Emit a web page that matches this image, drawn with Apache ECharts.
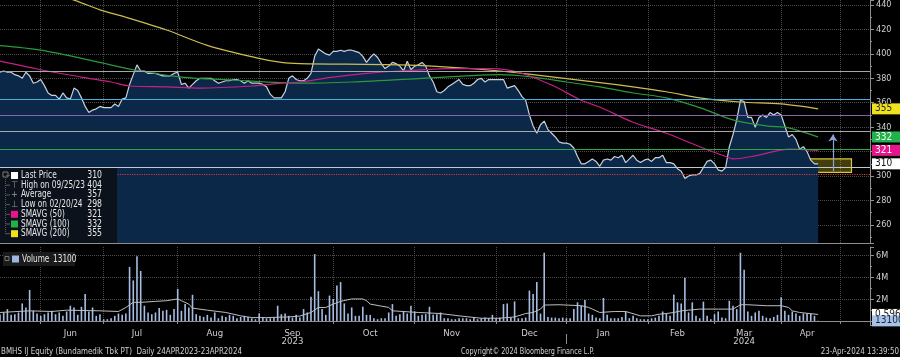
<!DOCTYPE html>
<html>
<head>
<meta charset="utf-8">
<script src="https://cdn.jsdelivr.net/npm/echarts@6.0.0/dist/echarts.min.js"></script>
<style>
  html, body { margin: 0; padding: 0; background: #000; }
  #chart { width: 900px; height: 357px; }
</style>
</head>
<body>
<div id="chart"></div>
<script>
// ---------------- DATA ----------------
const monthNames = ['May','Jun','Jul','Aug','Sep','Oct','Nov','Dec','Jan','Feb','Mar','Apr','May'];
const monthYears = [2023,2023,2023,2023,2023,2023,2023,2023,2024,2024,2024,2024,2024];
const monthTradingDays = [11,17,20,22,20,22,22,19,22,18,18,16,9];
const yearLabels = ['2023','2024'];

// daily closes (IDR)
const price = [
  385,386,385,385,383,382,380,385,382,376,
  377,379,374,368,366,366,363,368,364,363,
  372,370,364,357,352,354,355,357,356,356,
  356,359,357,363,364,375,383,391,386,386,
  384,384,384,383,382,382,382,384,385,375,
  376,372,375,378,380,380,380,380,378,376,
  377,378,378,379,379,378,376,378,376,376,
  376,375,373,367,364,364,364,369,380,382,
  379,378,378,380,384,398,404,402,400,399,
  402,402,403,402,403,403,402,401,398,393,
  397,400,397,392,388,390,393,392,390,386,
  394,387,390,391,393,390,382,377,369,368,
  370,373,375,377,379,375,374,374,376,379,
  380,377,379,379,379,379,379,372,373,374,
  370,365,362,350,341,335,342,345,338,335,
  332,328,327,327,326,323,316,310,310,312,
  314,312,308,313,314,313,316,315,317,311,
  314,317,313,311,313,314,312,315,315,317,
  311,311,310,306,304,298,300,301,301,302,
  307,312,313,310,305,304,307,324,334,346,
  362,361,348,348,340,348,350,348,352,350,
  352,350,341,332,334,330,322,324,320,313,
  310,310
];

// daily volume (millions of shares)
const volume = [
  0.60,0.78,1.09,0.56,0.62,0.78,1.61,1.24,2.84,0.93,
  0.68,0.47,0.62,0.78,0.93,0.62,0.78,0.47,0.87,1.40,
  1.24,0.56,1.30,2.48,0.87,1.24,0.47,0.62,0.16,0.16,
  0.25,0.47,0.68,0.56,0.68,4.96,3.72,5.95,4.59,1.40,
  0.78,0.62,0.78,1.18,0.93,1.02,0.56,1.09,2.95,0.93,
  1.55,1.24,2.40,0.62,0.47,0.37,0.56,0.31,0.78,0.25,
  0.47,0.37,0.56,0.47,0.25,0.37,0.47,0.37,0.25,0.16,
  0.68,0.31,0.25,0.25,0.31,1.40,0.62,0.68,0.47,0.31,
  0.56,0.31,1.09,0.78,2.23,6.14,2.73,1.09,0.56,2.33,
  2.02,3.26,3.57,1.61,0.68,1.24,0.47,0.47,1.30,0.56,
  0.56,0.25,0.16,0.25,0.25,0.78,1.55,0.47,0.62,0.87,
  0.68,1.40,0.87,0.47,0.56,0.62,1.30,0.56,0.62,0.78,
  0.25,0.25,0.16,0.16,0.25,0.25,0.25,0.16,0.37,0.16,
  0.25,0.31,0.25,0.56,0.25,0.31,1.55,1.61,0.31,1.80,
  0.25,0.25,0.31,2.79,2.48,3.57,0.68,6.26,0.37,0.31,
  0.31,0.25,0.31,0.25,0.25,1.09,1.71,1.40,1.92,0.68,
  0.56,0.31,0.25,2.11,0.56,0.25,0.25,0.25,0.37,0.87,
  0.25,0.47,0.25,0.16,0.16,0.16,0.25,0.31,0.47,0.87,
  0.68,0.47,2.42,1.71,1.61,3.97,0.78,1.71,0.47,0.25,
  1.77,0.47,0.16,0.62,0.87,0.31,0.25,1.86,1.40,1.09,
  6.26,4.71,0.87,0.47,0.78,0.93,0.47,0.31,0.25,0.37,
  0.56,2.17,0.93,0.56,0.87,0.68,0.47,0.68,0.68,0.68,
  0.47,0.0131
];

// moving averages: [trading-day index, value]
const sma50 = [[0,394],[11,387],[22,381],[30,377],[35,373.7],[45,373],[54,372],[68,373.7],[76,376],[81,377],[90,381],[99,384],[108,386],[122,388],[133,388],[140,385],[149,374.5],[157,362],[162,356.5],[171,344],[180,335],[189,324],[196,316],[198,314],[203,316],[209,320],[213,322],[221,321]];
const sma100 = [[0,406.7],[11,403],[27,393],[36,387],[49,381],[63,378.6],[81,376],[95,377],[114,380],[126,382],[135,383],[144,381],[153,377],[162,373],[171,368],[180,364],[189,356],[198,346],[207,341],[213,339.5],[221,332]];
const sma200 = [[0,466],[10,452],[20,444],[27,436],[34,430],[45,419.5],[56,407],[69,397],[76,393],[81,392],[108,391],[122,389],[135,386],[144,383],[162,376.5],[171,373],[180,369],[189,364],[200,360.6],[211,359],[221,355]];
const volAvg = [[0,0.78],[8,0.93],[14,0.87],[18,0.99],[27,0.93],[32,0.87],[34,1.24],[36,1.71],[38,1.71],[42,1.80],[45,1.86],[48,2.02],[49,1.86],[51,1.55],[52,1.18],[56,0.99],[61,0.78],[65,0.47],[68,0.31],[72,0.31],[78,0.37],[81,0.45],[84,0.78],[86,1.24],[88,1.24],[90,1.55],[92,1.80],[95,2.02],[98,2.02],[99,1.86],[100,1.55],[105,1.24],[106,0.93],[113,0.78],[119,0.68],[124,0.47],[130,0.25],[135,0.25],[139,0.37],[142,0.68],[144,0.78],[146,1.09],[147,1.46],[151,1.49],[157,1.40],[159,1.24],[160,1.09],[162,0.78],[166,0.87],[169,0.87],[173,0.47],[176,0.47],[178,0.62],[180,0.68],[182,0.78],[184,0.93],[189,1.09],[194,1.09],[198,1.09],[200,1.49],[202,1.49],[207,1.40],[211,1.40],[213,1.24],[214,0.93],[216,0.78],[221,0.596]];

// drawn horizontal levels, zone band and arrow annotation (price units / day index)
const levelLines = [386, 362.5, 350, 337, 322, 307.5, 301.5];
const zoneBand = [[216, 314], [230, 303]];
const arrowMark = [[225, 304], [225, 334]];
const stats = { highDate: '09/25/23', average: 357, lowDate: '02/20/24' };

// ---------------- STYLES ----------------
const levelColors = ['#a6a6a6', '#45aedb', '#8d62ad', '#a8a8a8', '#2da548', '#c2c8d2', '#d23a3a'];
const levelTypes = ['solid','solid','solid','solid','solid','solid','dotted'];
const FONT = '"Liberation Sans Narrow","DejaVu Sans Condensed","Arial Narrow","Liberation Sans",sans-serif';
const TXT = '#cfcfcf';
const GRIDC = '#4b4b4b';
const AXC = '#8e8e8e';

// ---------------- DERIVED ----------------
const monthStart = []; let acc = 0;
monthTradingDays.forEach(d => { monthStart.push(acc); acc += d; });
const categories = [];
monthTradingDays.forEach((d, m) => { for (let k = 0; k < d; k++) categories.push(monthNames[m] + ' ' + monthYears[m] + ' #' + (k + 1)); });
const boundarySet = new Set(monthStart.slice(1));
const monthLabelAt = {};
for (let m = 1; m < monthNames.length - 1; m++) monthLabelAt[monthStart[m] + Math.floor((monthTradingDays[m] - 1) / 2)] = monthNames[m];
const yearLabelAt = {};
yearLabelAt[monthStart[4] + Math.floor((monthTradingDays[4] - 1) / 2)] = yearLabels[0];
yearLabelAt[monthStart[10] + Math.floor((monthTradingDays[10] - 1) / 2)] = yearLabels[1];
const yearBreak = monthStart[8];

const lastPrice = price[price.length - 1];
const highPrice = Math.max.apply(null, price);
const lowPrice = Math.min.apply(null, price);
const last50 = sma50[sma50.length - 1][1];
const last100 = sma100[sma100.length - 1][1];
const last200 = sma200[sma200.length - 1][1];
const lastVol = volume[volume.length - 1];
const lastVolAvg = volAvg[volAvg.length - 1][1];

const tag = (bg, fg, text) => ({
  show: true, position: 'end', distance: 2, formatter: text,
  color: fg, backgroundColor: bg, padding: [1, 3, 0, 3],
  fontSize: 10, fontFamily: FONT, width: 24, lineHeight: 10
});
const hidden = { width: 0, color: 'rgba(0,0,0,0)' };

const xBase = { type: 'category', data: categories, boundaryGap: false };
const vSplit = { show: true, interval: (i) => boundarySet.has(i), lineStyle: { color: GRIDC, type: 'dotted', width: 1 } };

const chart = echarts.init(document.getElementById('chart'), null, { renderer: 'canvas' });

const option = {
  backgroundColor: '#000',
  animation: false,
  textStyle: { fontFamily: FONT },
  grid: [
    { left: 0, right: 30, top: 0, height: 243 },
    { left: 0, right: 30, top: 247, height: 78 }
  ],
  xAxis: [
    Object.assign({}, xBase, {
      gridIndex: 0,
      axisLine: { show: true, lineStyle: { color: AXC } },
      axisTick: { show: false }, axisLabel: { show: false },
      splitLine: vSplit
    }),
    Object.assign({}, xBase, {
      gridIndex: 1,
      axisLine: { show: true, lineStyle: { color: AXC } },
      axisTick: { show: true, interval: (i) => boundarySet.has(i), length: 3, lineStyle: { color: AXC } },
      axisLabel: { show: true, interval: (i) => (i in monthLabelAt), formatter: (v, i) => monthLabelAt[i] || '', color: TXT, fontSize: 9.5, margin: 4 },
      splitLine: vSplit
    }),
    Object.assign({}, xBase, {
      gridIndex: 1, position: 'bottom', offset: 9,
      axisLine: { show: false },
      axisTick: { show: true, interval: (i) => i === yearBreak, length: 10, lineStyle: { color: AXC } },
      axisLabel: { show: true, interval: (i) => (i in yearLabelAt), formatter: (v, i) => yearLabelAt[i] || '', color: TXT, fontSize: 9.5, margin: 3 },
      splitLine: { show: false }
    })
  ],
  yAxis: [
    {
      type: 'value', gridIndex: 0, position: 'right', min: 245.2, max: 444.1,
      minInterval: 20, maxInterval: 20,
      axisLine: { show: true, lineStyle: { color: AXC } },
      axisTick: { show: true, length: 4, lineStyle: { color: AXC } },
      minorTick: { show: true, splitNumber: 2, length: 2, lineStyle: { color: AXC } },
      axisLabel: { color: TXT, fontSize: 9, margin: 6, formatter: (v) => (Math.abs(v % 20) < 1e-6 ? String(v) : '') },
      splitLine: { show: true, showMinLine: false, showMaxLine: false, lineStyle: { color: GRIDC, type: 'dotted' } }
    },
    {
      type: 'value', gridIndex: 1, position: 'right', min: -0.37, max: 6.79,
      minInterval: 2, maxInterval: 2,
      axisLine: { show: true, lineStyle: { color: AXC } },
      axisTick: { show: true, length: 4, lineStyle: { color: AXC } },
      minorTick: { show: true, splitNumber: 2, length: 2, lineStyle: { color: AXC } },
      axisLabel: { color: TXT, fontSize: 9, margin: 6, formatter: (v) => ((v > 0 && Math.abs(v % 2) < 1e-6) ? v + 'M' : '') },
      splitLine: { show: true, showMinLine: false, showMaxLine: false, lineStyle: { color: GRIDC, type: 'dotted' } }
    }
  ],
  series: [
    {
      name: 'Last Price', type: 'line', xAxisIndex: 0, yAxisIndex: 0,
      data: price, showSymbol: false, symbol: 'none',
      lineStyle: { color: '#c6d1e0', width: 1.2 },
      areaStyle: { color: '#0b2849', opacity: 1, origin: 'start' },
      z: 2,
      markLine: {
        silent: true, symbol: ['none', 'none'], animation: false,
        data: levelLines.map((v, k) => ({ yAxis: v, lineStyle: { color: levelColors[k], width: 1.2, type: levelTypes[k] }, label: { show: false } }))
          .concat([
            [
              { coord: arrowMark[0], symbol: 'none', lineStyle: { color: '#8ea2d8', width: 1.2, type: 'solid' }, label: { show: false } },
              { coord: arrowMark[1], symbol: 'arrow', symbolSize: [7, 7] }
            ],
            { yAxis: lastPrice, lineStyle: hidden, label: tag('#ffffff', '#111111', String(lastPrice)) }
          ])
      },
      markArea: {
        silent: true,
        itemStyle: { color: 'rgba(222,206,40,0.30)', borderColor: '#d6c836', borderWidth: 1.2 },
        data: [[{ coord: zoneBand[0] }, { coord: zoneBand[1] }]]
      }
    },
    {
      name: 'SMAVG (200)', type: 'line', xAxisIndex: 0, yAxisIndex: 0,
      data: sma200, smooth: 0.3, showSymbol: false, symbol: 'none',
      lineStyle: { color: '#cdbd52', width: 1.2 }, z: 4,
      markLine: { silent: true, symbol: ['none', 'none'], data: [{ yAxis: last200, lineStyle: hidden, label: tag('#efe21c', '#2a2a2a', String(Math.round(last200))) }] }
    },
    {
      name: 'SMAVG (100)', type: 'line', xAxisIndex: 0, yAxisIndex: 0,
      data: sma100, smooth: 0.3, showSymbol: false, symbol: 'none',
      lineStyle: { color: '#2a9a3c', width: 1.2 }, z: 4,
      markLine: { silent: true, symbol: ['none', 'none'], data: [{ yAxis: last100, lineStyle: hidden, label: tag('#21b24a', '#f2fff2', String(Math.round(last100))) }] }
    },
    {
      name: 'SMAVG (50)', type: 'line', xAxisIndex: 0, yAxisIndex: 0,
      data: sma50, smooth: 0.3, showSymbol: false, symbol: 'none',
      lineStyle: { color: '#c71f86', width: 1.2 }, z: 4,
      markLine: { silent: true, symbol: ['none', 'none'], data: [{ yAxis: last50, lineStyle: hidden, label: tag('#e6158c', '#ffffff', String(Math.round(last50))) }] }
    },
    {
      name: 'Volume', type: 'bar', xAxisIndex: 1, yAxisIndex: 1,
      data: volume, barWidth: 1.6, itemStyle: { color: '#a6bde3' }, z: 3
    },
    {
      name: 'Volume avg', type: 'line', xAxisIndex: 1, yAxisIndex: 1,
      data: volAvg, showSymbol: false, symbol: 'none',
      lineStyle: { color: '#bdbdbd', width: 1 }, z: 4,
      markLine: {
        silent: true, symbol: ['none', 'none'],
        data: [
          { yAxis: lastVolAvg, lineStyle: hidden, label: tag('#ffffff', '#222222', lastVolAvg.toFixed(3) + 'M') },
          { yAxis: lastVol, lineStyle: hidden, label: tag('#a9c2e7', '#14243c', String(Math.round(lastVol * 1e6))) }
        ]
      }
    }
  ],
  graphic: buildGraphics()
};

function txt(x, y, text, opts) {
  return Object.assign({
    type: 'text', z: 100, silent: true, x: x, y: y, scaleX: 0.82,
    style: { text: text, fill: '#e6e6e6', fontSize: 10, fontFamily: FONT, align: 'left', verticalAlign: 'middle' }
  }, opts || {});
}

function buildGraphics() {
  const g = [];
  const Z = 100;
  const legendRows = [
    { icon: 'sq', color: '#ffffff', label: 'Last Price', val: lastPrice },
    { icon: '\u22A4', label: 'High on ' + stats.highDate, val: highPrice },
    { icon: '+', label: 'Average', val: stats.average },
    { icon: '\u22A5', label: 'Low on ' + stats.lowDate, val: lowPrice },
    { icon: 'sq', color: '#e6158c', label: 'SMAVG (50)', val: Math.round(last50) },
    { icon: 'sq', color: '#21b24a', label: 'SMAVG (100)', val: Math.round(last100) },
    { icon: 'sq', color: '#efe21c', label: 'SMAVG (200)', val: Math.round(last200) }
  ];
  // main legend box
  g.push({ type: 'rect', z: Z, silent: true, shape: { x: 0, y: 168, width: 117, height: 75 }, style: { fill: '#0c121b' } });
  g.push({ type: 'rect', z: Z, silent: true, shape: { x: 3, y: 172, width: 5, height: 5 }, style: { fill: 'none', stroke: '#7a7a7a', lineWidth: 1 } });
  g.push({ type: 'line', z: Z, silent: true, shape: { x1: 5.5, y1: 177, x2: 5.5, y2: 234 }, style: { stroke: '#5a5a5a', lineWidth: 1, lineDash: [1, 1] } });
  legendRows.forEach((r, k) => {
    const y = 175.5 + k * 9.7;
    g.push({ type: 'line', z: Z, silent: true, shape: { x1: 6, y1: y, x2: 10, y2: y }, style: { stroke: '#5a5a5a', lineWidth: 1 } });
    if (r.icon === 'sq') {
      g.push({ type: 'rect', z: Z, silent: true, shape: { x: 11, y: y - 3.5, width: 7, height: 7 }, style: { fill: r.color } });
    } else {
      g.push(txt(14.5, y, r.icon, { scaleX: 1, style: { text: r.icon, fill: '#9a9a9a', fontSize: 9, fontFamily: FONT, align: 'center', verticalAlign: 'middle' } }));
    }
    g.push(txt(21, y, r.label));
    g.push(txt(102, y, String(r.val), { scaleX: 0.86, style: { text: String(r.val), fill: '#e6e6e6', fontSize: 10, fontFamily: FONT, align: 'right', verticalAlign: 'middle' } }));
  });
  // volume legend
  g.push({ type: 'rect', z: Z, silent: true, shape: { x: 3, y: 252, width: 72, height: 14 }, style: { fill: '#1b1b1b' } });
  g.push({ type: 'rect', z: Z, silent: true, shape: { x: 5, y: 256.5, width: 4, height: 4 }, style: { fill: 'none', stroke: '#777', lineWidth: 1 } });
  g.push({ type: 'rect', z: Z, silent: true, shape: { x: 12, y: 255.5, width: 7, height: 7 }, style: { fill: '#9fb7e0' } });
  g.push(txt(22, 259, 'Volume'));
  g.push(txt(53, 259, String(Math.round(lastVol * 1e6))));
  // footer
  g.push(txt(1, 352, 'BMHS IJ Equity (Bundamedik Tbk PT)  Daily 24APR2023-23APR2024', { scaleX: 0.88, style: { text: 'BMHS IJ Equity (Bundamedik Tbk PT)  Daily 24APR2023-23APR2024', fill: TXT, fontSize: 9, fontFamily: FONT, align: 'left', verticalAlign: 'middle' } }));
  g.push(txt(461, 352, 'Copyright\u00A9 2024 Bloomberg Finance L.P.', { scaleX: 0.8, style: { text: 'Copyright\u00A9 2024 Bloomberg Finance L.P.', fill: TXT, fontSize: 9, fontFamily: FONT, align: 'left', verticalAlign: 'middle' } }));
  g.push(txt(899, 352, '23-Apr-2024 13:39:50', { scaleX: 0.88, style: { text: '23-Apr-2024 13:39:50', fill: TXT, fontSize: 9, fontFamily: FONT, align: 'right', verticalAlign: 'middle' } }));
  return g;
}

chart.setOption(option);
</script>
</body>
</html>
